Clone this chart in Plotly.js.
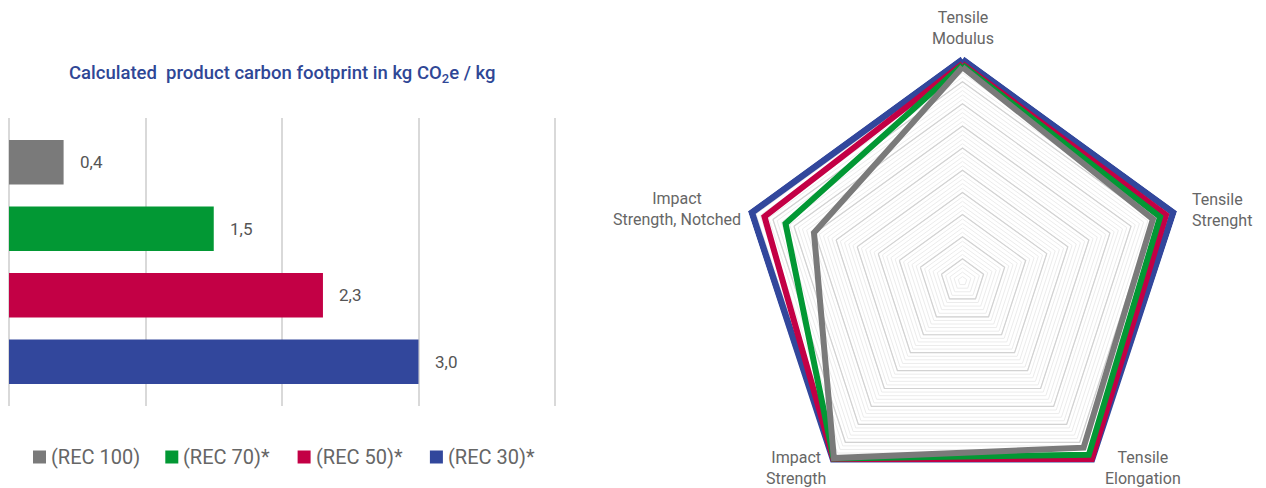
<!DOCTYPE html>
<html>
<head>
<meta charset="utf-8">
<script src="https://cdn.plot.ly/plotly-3.0.1.min.js"></script>
<style>
  html, body { margin: 0; padding: 0; background: #ffffff; overflow: hidden; }
  #chart { width: 1266px; height: 540px; }
</style>
</head>
<body>
<div id="chart"></div>
<script>
// ---------- data ----------
const seriesNames = ["(REC 100)", "(REC 70)*", "(REC 50)*", "(REC 30)*"];
const seriesColors = ["#7a7a7a", "#029834", "#c30045", "#32479c"];
const carbonFootprint = [0.4, 1.5, 2.3, 3.0];

const radarCategories = ["Tensile<br>Modulus", "Tensile<br>Strenght", "Tensile<br>Elongation", "Impact<br>Strength", "Impact<br>Strength, Notched"];
const radarRec100 = [96.6, 90.4, 93.0, 98.8, 70.5];
const radarRec70  = [97.5, 93.8, 97.0, 99.0, 84.0];
const radarRec50  = [98.0, 96.6, 99.3, 99.3, 94.0];
const radarRec30  = [100, 100, 99.5, 99.5, 100];
const radarValues = [radarRec100, radarRec70, radarRec50, radarRec30];

const chartTitle = "Calculated  product carbon footprint in kg CO<sub>2</sub>e / kg";

// ---------- helpers ----------
const W = 1266, H = 540;
const px = x => x / W;
const py = y => 1 - y / H;

const traces = [];

// bars
seriesNames.forEach((name, i) => {
  traces.push({
    type: "bar", orientation: "h",
    x: [carbonFootprint[i]], y: [name],
    width: 0.67,
    marker: { color: seriesColors[i], line: { width: 0 } },
    xaxis: "x", yaxis: "y",
    showlegend: false, hoverinfo: "x"
  });
});

// invisible trace to establish categories on the fine-grid polar
traces.push({
  type: "scatterpolar", subplot: "polar",
  r: radarRec30, theta: radarCategories,
  mode: "lines", line: { width: 0, color: "rgba(0,0,0,0)" },
  showlegend: false, hoverinfo: "skip"
});

// radar lines: REC 30 drawn first, REC 100 last (on top)
[3, 2, 1, 0].forEach(i => {
  const r = radarValues[i].concat([radarValues[i][0]]);
  const th = radarCategories.concat([radarCategories[0]]);
  traces.push({
    type: "scatterpolar", subplot: "polar2",
    r: r, theta: th, mode: "lines",
    line: { color: seriesColors[i], width: i === 3 ? 6.5 : 6 },
    cliponaxis: false,
    name: seriesNames[i], showlegend: false
  });
});

// polar geometry (value 100 sits at radius R100; range padded so thick lines are not clipped)
const cx = 962.5, cy = 281, R100 = 221.5, rMax = 101.9;
const Rdom = R100 * rMax / 100;
const polarDomain = { x: [px(cx - Rdom), px(cx + Rdom)], y: [py(cy + Rdom), py(cy - Rdom)] };

const angularBase = {
  type: "category", rotation: 90, direction: "clockwise",
  categoryorder: "array", categoryarray: radarCategories,
  showgrid: false, showline: false, ticks: "", showticklabels: false
};

const annotations = [];
// title
annotations.push({
  xref: "paper", yref: "paper", x: px(281.5), y: py(74),
  xanchor: "center", yanchor: "middle", showarrow: false,
  text: chartTitle,
  font: { family: "Roboto", size: 18.5, color: "#2f4796", weight: 500 }
});
// value labels
seriesNames.forEach((name, i) => {
  annotations.push({
    xref: "x", yref: "y", x: carbonFootprint[i], y: name,
    xanchor: "left", yanchor: "middle", xshift: 14, showarrow: false,
    text: carbonFootprint[i].toFixed(1).replace(".", ","),
    font: { family: "Roboto", size: 17, color: "#555555" }
  });
});
// radar category labels (placement per label, in page pixels)
const radarLabelPlace = [
  { x: 963,  y: 28,  xa: "center", al: "center" },
  { x: 1190, y: 210, xa: "left",   al: "left" },
  { x: 1143, y: 468, xa: "center", al: "center" },
  { x: 828,  y: 468, xa: "right",  al: "center" },
  { x: 743,  y: 209, xa: "right",  al: "center" }
];
radarCategories.forEach((cat, i) => {
  const p = radarLabelPlace[i];
  annotations.push({
    xref: "paper", yref: "paper", x: px(p.x), y: py(p.y),
    xanchor: p.xa, yanchor: "middle", align: p.al, showarrow: false,
    text: cat,
    font: { family: "Roboto", size: 16, color: "#666666" }
  });
});
// custom legend
const shapes = [];
const legX0 = 33, legStep = 132.3, legY = 457, sq = 13;
seriesNames.forEach((name, i) => {
  const x0 = legX0 + i * legStep;
  shapes.push({
    type: "rect", xref: "paper", yref: "paper",
    x0: px(x0), x1: px(x0 + sq), y0: py(legY + sq / 2), y1: py(legY - sq / 2),
    fillcolor: seriesColors[i], line: { width: 0 }
  });
  annotations.push({
    xref: "paper", yref: "paper", x: px(x0 + sq + 3), y: py(legY),
    xanchor: "left", yanchor: "middle", showarrow: false,
    text: name,
    font: { family: "Roboto", size: 20, color: "#666666" }
  });
});

const pad = 0.012, unitPx = 136.5;
const layout = {
  width: W, height: H,
  margin: { l: 0, r: 0, t: 0, b: 0 },
  paper_bgcolor: "#ffffff", plot_bgcolor: "#ffffff",
  font: { family: "Roboto", color: "#666666" },
  showlegend: false,
  barmode: "overlay",
  xaxis: {
    domain: [px(9 - pad * unitPx), px(555 + pad * unitPx)], range: [-pad, 4 + pad], dtick: 1, tick0: 0,
    showticklabels: false, ticks: "", showgrid: true,
    gridcolor: "#d9d9d9", gridwidth: 2, zeroline: false, showline: false,
    fixedrange: true
  },
  yaxis: {
    domain: [py(406), py(118)], type: "category",
    categoryorder: "array", categoryarray: seriesNames,
    range: [3.665, -0.665],
    showticklabels: false, ticks: "", showgrid: false, zeroline: false, showline: false,
    fixedrange: true
  },
  polar: {
    domain: polarDomain, gridshape: "linear", bgcolor: "rgba(0,0,0,0)",
    radialaxis: {
      range: [0, rMax], dtick: 2, showticklabels: false, ticks: "",
      showline: false, gridcolor: "#ececec", gridwidth: 1
    },
    angularaxis: Object.assign({}, angularBase)
  },
  polar2: {
    domain: polarDomain, gridshape: "linear", bgcolor: "rgba(0,0,0,0)",
    radialaxis: {
      range: [0, rMax], dtick: 10, showticklabels: false, ticks: "",
      showline: false, gridcolor: "#d2d2d2", gridwidth: 1.2
    },
    angularaxis: Object.assign({}, angularBase)
  },
  annotations: annotations,
  shapes: shapes
};

Plotly.newPlot("chart", traces, layout, { displayModeBar: false, staticPlot: true });
</script>
</body>
</html>
